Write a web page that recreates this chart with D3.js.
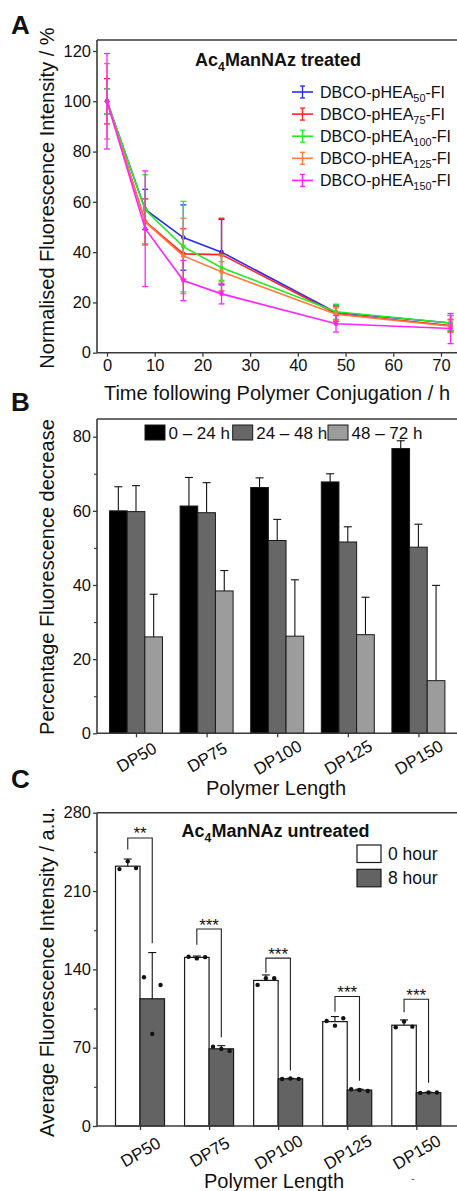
<!DOCTYPE html>
<html><head><meta charset="utf-8">
<script src="https://cdn.jsdelivr.net/npm/d3@7"></script>
<style>
body{margin:0;background:#fff}
svg{display:block}
text{font-family:"Liberation Sans",Arial,Helvetica,sans-serif;fill:#111}
</style>
</head><body><svg id="c" width="457" height="1191"></svg>
<script>
// ---------- Panel A data ----------
const timesA = [0, 8, 16, 24, 48, 72];
const seriesSubA = ["50", "75", "100", "125", "150"];
const colorsA = ["#2a2aff", "#ff2424", "#22ee22", "#ff7a3a", "#ff22ff"];
const dp50A = [100, 57, 45.8, 40, 16, 11.8];
const dp75A = [100, 52.2, 39.3, 39, 15.5, 10.8];
const dp100A = [100, 56.8, 42.2, 33.8, 16.3, 11.8];
const dp125A = [100, 52, 38.5, 32.2, 15.3, 10.5];
const dp150A = [100, 49.3, 28.7, 23.4, 11.5, 9.6];
const dp50ErrA = [5, 8, 13, 13, 3, 3];
const dp75ErrA = [9, 9, 10, 14.5, 3, 2.5];
const dp100ErrA = [5, 14, 18, 5, 3, 3];
const dp125ErrA = [15, 9, 15, 4, 2.5, 2.5];
const dp150ErrA = [19, 23, 8, 4, 3.3, 6];
const yTicksA = [0, 20, 40, 60, 80, 100, 120];
const xTicksA = [0, 10, 20, 30, 40, 50, 60, 70];

// ---------- Panel B data ----------
const categories = ["DP50", "DP75", "DP100", "DP125", "DP150"];
const seriesB = ["0 \u2013 24 h", "24 \u2013 48 h", "48 \u2013 72 h"];
const colorsB = ["#000000", "#676767", "#9c9c9c"];
const b0to24 = [60, 61.3, 66.3, 67.8, 76.8];
const b24to48 = [59.8, 59.5, 52, 51.6, 50.2];
const b48to72 = [26, 38.4, 26.2, 26.6, 14.2];
const b0to24Err = [6.5, 7.7, 2.6, 2.2, 2.1];
const b24to48Err = [7.0, 8.1, 5.7, 4.1, 6.2];
const b48to72Err = [11.5, 5.5, 15.2, 10.1, 25.7];
const yTicksB = [0, 20, 40, 60, 80];
const yMinorB = [10, 30, 50, 70];

// ---------- Panel C data ----------
const seriesC = ["0 hour", "8 hour"];
const colorsC = ["#ffffff", "#636363"];
const c0h = [232.2, 150.7, 130.1, 93.3, 90.1];
const c8h = [113.7, 69, 42.2, 32.1, 29.8];
const c0hErr = [6.4, 1.2, 4.9, 4.5, 4.7];
const c8hErr = [41.3, 2.8, 0.4, 0.8, 0.4];
const c0hDots = [[229.6, 236.5, 230.5], [151.3, 149.8, 150.9], [126.1, 132.1, 132.1], [93.9, 89.7, 96.3], [88.3, 93.3, 88.8]];
const c8hDots = [[133, 82.3, 126], [70.9, 68.9, 67.1], [42.0, 42.4, 42.1], [32.8, 32.2, 31.3], [29.6, 29.9, 30.0]];
const sigLabels = ["**", "***", "***", "***", "***"];
const sigTop = [257.4, 176, 150, 115.7, 113.3];
const sigLeftEnd = [247, 162, 137, 102, 101.7];
const sigRightEnd = [163.4, 79.3, 49.5, 40.5, 38.7];
const yTicksC = [0, 70, 140, 210, 280];
const yMinorC = [35, 105, 175, 245];

const svg = d3.select("#c");
const AX = "#3a3a3a";
const LEFT = 97, RIGHT = 462;
const TICKFONT = 16.5, TITLEFONT = 20;

function yAxis(g, y, ticks, minor) {
  const ax = g.append("g").attr("transform", `translate(${LEFT},0)`)
    .call(d3.axisLeft(y).tickValues(ticks).tickSize(4).tickPadding(2).tickSizeOuter(0));
  ax.select(".domain").remove();
  ax.selectAll("line").attr("stroke", AX).attr("stroke-width", 1.3);
  ax.selectAll("text").attr("font-size", TICKFONT).attr("fill", "#111");
  if (minor) {
    const m = g.append("g").attr("transform", `translate(${LEFT},0)`)
      .call(d3.axisLeft(y).tickValues(minor).tickSize(3).tickFormat(""));
    m.select(".domain").remove();
    m.selectAll("line").attr("stroke", AX).attr("stroke-width", 1.1);
  }
}
function frame(g, top, bottom) {
  g.append("line").attr("x1", LEFT).attr("x2", LEFT).attr("y1", top).attr("y2", bottom).attr("stroke", AX).attr("stroke-width", 1.6);
  g.append("line").attr("x1", LEFT).attr("x2", RIGHT).attr("y1", top).attr("y2", top).attr("stroke", AX).attr("stroke-width", 1.6);
  g.append("line").attr("x1", LEFT).attr("x2", RIGHT).attr("y1", bottom).attr("y2", bottom).attr("stroke", AX).attr("stroke-width", 1.6);
}
function subText(g, x, y, parts, size, anchor, weight) {
  const t = g.append("text").attr("x", x).attr("y", y).attr("font-size", size)
    .attr("text-anchor", anchor || "start").attr("font-weight", weight || "normal");
  parts.forEach(p => {
    if (p.sub) t.append("tspan").attr("font-size", size * 0.68).attr("dy", size * 0.25).text(p.t);
    else t.append("tspan").attr("font-size", size).attr("dy", p.back ? -size * 0.25 : 0).text(p.t);
  });
  return t;
}

// ================= Panel A =================
const gA = svg.append("g");
const xA = d3.scaleLinear().domain([0, 70]).range([107, 441]);
const yA = d3.scaleLinear().domain([0, 120]).range([352.7, 51]);
frame(gA, 40, 352.7);
yAxis(gA, yA, yTicksA);
{
  const ax = gA.append("g").attr("transform", "translate(0,352.7)")
    .call(d3.axisBottom(xA).tickValues(xTicksA).tickSize(4).tickPadding(3).tickSizeOuter(0));
  ax.select(".domain").remove();
  ax.selectAll("line").attr("stroke", AX).attr("stroke-width", 1.3);
  ax.selectAll("text").attr("font-size", TICKFONT).attr("fill", "#111");
}
const valsA = [dp50A, dp75A, dp100A, dp125A, dp150A];
const errsA = [dp50ErrA, dp75ErrA, dp100ErrA, dp125ErrA, dp150ErrA];
const lineA = d3.line().x((d, i) => xA(timesA[i])).y(d => yA(d));
valsA.forEach((vals, s) => {
  const col = colorsA[s];
  const g = gA.append("g");
  g.append("path").datum(vals).attr("d", lineA).attr("fill", "none").attr("stroke", col).attr("stroke-width", 1.6);
  vals.forEach((v, i) => {
    const x = xA(timesA[i]), e = errsA[s][i];
    g.append("line").attr("x1", x).attr("x2", x).attr("y1", yA(v + e)).attr("y2", yA(v - e)).attr("stroke", col).attr("stroke-width", 1.3);
    [v + e, v - e].forEach(w => g.append("line").attr("x1", x - 3).attr("x2", x + 3).attr("y1", yA(w)).attr("y2", yA(w)).attr("stroke", col).attr("stroke-width", 1.3));
    g.append("circle").attr("cx", x).attr("cy", yA(v)).attr("r", 2.3).attr("fill", col);
  });
});
subText(gA, 278, 66, [{t: "Ac"}, {t: "4", sub: true}, {t: "ManNAz treated", back: true}], 18, "middle", "bold");
seriesSubA.forEach((sub, i) => {
  const y = 92 + i * 22.1, col = colorsA[i];
  gA.append("line").attr("x1", 292).attr("x2", 313).attr("y1", y).attr("y2", y).attr("stroke", col).attr("stroke-width", 1.6);
  gA.append("line").attr("x1", 302.5).attr("x2", 302.5).attr("y1", y - 6).attr("y2", y + 6).attr("stroke", col).attr("stroke-width", 1.3);
  [y - 6, y + 6].forEach(w => gA.append("line").attr("x1", 300).attr("x2", 305).attr("y1", w).attr("y2", w).attr("stroke", col).attr("stroke-width", 1.3));
  subText(gA, 320, y + 5.5, [{t: "DBCO-pHEA"}, {t: sub, sub: true}, {t: "-FI", back: true}], 16, "start");
});
gA.append("text").attr("transform", "translate(54,198) rotate(-90)").attr("text-anchor", "middle").attr("font-size", TITLEFONT).text("Normalised Fluorescence Intensity / %");
gA.append("text").attr("x", 277).attr("y", 400).attr("text-anchor", "middle").attr("font-size", TITLEFONT).text("Time following Polymer Conjugation / h");
gA.append("text").attr("x", 11).attr("y", 34).attr("font-size", 26).attr("font-weight", "bold").text("A");

// ================= Panel B =================
const gB = svg.append("g");
const yB = d3.scaleLinear().domain([0, 80]).range([733.3, 436.7]);
const xB = d3.scalePoint().domain(categories).range([136, 418.4]);
const xBin = d3.scaleBand().domain(seriesB).range([-26.5, 26.5]);
const valsB = [b0to24, b24to48, b48to72];
const errsB = [b0to24Err, b24to48Err, b48to72Err];
valsB.forEach((vals, s) => {
  vals.forEach((v, i) => {
    const x0 = xB(categories[i]) + xBin(seriesB[s]);
    const w = xBin.bandwidth();
    const xc = x0 + w / 2, top = v + errsB[s][i];
    gB.append("line").attr("x1", xc).attr("x2", xc).attr("y1", yB(v)).attr("y2", yB(top)).attr("stroke", "#111").attr("stroke-width", 1.1);
    gB.append("line").attr("x1", xc - 4).attr("x2", xc + 4).attr("y1", yB(top)).attr("y2", yB(top)).attr("stroke", "#111").attr("stroke-width", 1.1);
    gB.append("rect").attr("x", x0).attr("y", yB(v)).attr("width", w).attr("height", yB(0) - yB(v))
      .attr("fill", colorsB[s]).attr("stroke", "#1a1a1a").attr("stroke-width", 1);
  });
});
frame(gB, 419, 733.3);
yAxis(gB, yB, yTicksB, yMinorB);
{
  const ax = gB.append("g").attr("transform", "translate(0,733.3)")
    .call(d3.axisBottom(xB).tickSize(4).tickSizeOuter(0));
  ax.select(".domain").remove();
  ax.selectAll("line").attr("stroke", AX).attr("stroke-width", 1.3);
  ax.selectAll("text").attr("font-size", 17).attr("fill", "#111").attr("text-anchor", "middle")
    .attr("y", 0).attr("dy", "0.35em").attr("transform", "translate(0,24) rotate(-30)");
}
const legXB = [145, 232.7, 328];
seriesB.forEach((name, i) => {
  gB.append("rect").attr("x", legXB[i]).attr("y", 425).attr("width", 20).attr("height", 15)
    .attr("fill", colorsB[i]).attr("stroke", "#1a1a1a").attr("stroke-width", 1);
  gB.append("text").attr("x", legXB[i] + 23.5).attr("y", 438.5).attr("font-size", 17).text(name);
});
gB.append("text").attr("transform", "translate(54,577) rotate(-90)").attr("text-anchor", "middle").attr("font-size", TITLEFONT).text("Percentage Fluorescence decrease");
gB.append("text").attr("x", 276).attr("y", 795).attr("text-anchor", "middle").attr("font-size", TITLEFONT).text("Polymer Length");
gB.append("text").attr("x", 11).attr("y", 411).attr("font-size", 26).attr("font-weight", "bold").text("B");

// ================= Panel C =================
const gC = svg.append("g");
const yC = d3.scaleLinear().domain([0, 280]).range([1126, 812.7]);
const xC = d3.scalePoint().domain(categories).range([140, 416.3]);
const bwC = 24.5;
const valsC = [c0h, c8h];
const errsC = [c0hErr, c8hErr];
const dotsC = [c0hDots, c8hDots];
valsC.forEach((vals, s) => {
  vals.forEach((v, i) => {
    const x0 = xC(categories[i]) + (s === 0 ? -bwC : 0);
    const xc = x0 + bwC / 2, top = v + errsC[s][i];
    gC.append("rect").attr("x", x0).attr("y", yC(v)).attr("width", bwC).attr("height", yC(0) - yC(v))
      .attr("fill", colorsC[s]).attr("stroke", "#1a1a1a").attr("stroke-width", 1.2);
    gC.append("line").attr("x1", xc).attr("x2", xc).attr("y1", yC(v)).attr("y2", yC(top)).attr("stroke", "#111").attr("stroke-width", 1.1);
    gC.append("line").attr("x1", xc - 4).attr("x2", xc + 4).attr("y1", yC(top)).attr("y2", yC(top)).attr("stroke", "#111").attr("stroke-width", 1.1);
    dotsC[s][i].forEach((d, k) => {
      gC.append("circle").attr("cx", xc + (k - 1) * 8.3).attr("cy", yC(d)).attr("r", 2.2).attr("fill", "#111");
    });
  });
});
categories.forEach((c, i) => {
  const xl = xC(c) - bwC / 2, xr = xC(c) + bwC / 2;
  gC.append("path").attr("d", `M${xl},${yC(sigLeftEnd[i])}V${yC(sigTop[i])}H${xr}V${yC(sigRightEnd[i])}`)
    .attr("fill", "none").attr("stroke", "#222").attr("stroke-width", 1.1);
  gC.append("text").attr("x", (xl + xr) / 2).attr("y", yC(sigTop[i]) + 1.5).attr("text-anchor", "middle").attr("font-size", 17).text(sigLabels[i]);
});
frame(gC, 812.7, 1126);
yAxis(gC, yC, yTicksC, yMinorC);
{
  const ax = gC.append("g").attr("transform", "translate(0,1126)")
    .call(d3.axisBottom(xC).tickSize(4).tickSizeOuter(0));
  ax.select(".domain").remove();
  ax.selectAll("line").attr("stroke", AX).attr("stroke-width", 1.3);
  ax.selectAll("text").attr("font-size", 17).attr("fill", "#111").attr("text-anchor", "middle")
    .attr("y", 0).attr("dy", "0.35em").attr("transform", "translate(0,26) rotate(-30)");
}
subText(gC, 275.5, 837, [{t: "Ac"}, {t: "4", sub: true}, {t: "ManNAz untreated", back: true}], 18, "middle", "bold");
seriesC.forEach((name, i) => {
  const y = 845 + i * 24.3;
  gC.append("rect").attr("x", 357).attr("y", y).attr("width", 24).attr("height", 17.5)
    .attr("fill", colorsC[i]).attr("stroke", "#1a1a1a").attr("stroke-width", 1.2);
  gC.append("text").attr("x", 388).attr("y", y + 14.5).attr("font-size", 17.5).text(name);
});
gC.append("text").attr("transform", "translate(54,972) rotate(-90)").attr("text-anchor", "middle").attr("font-size", TITLEFONT).text("Average Fluorescence Intensity / a.u.");
gC.append("text").attr("x", 274).attr("y", 1188).attr("text-anchor", "middle").attr("font-size", TITLEFONT).text("Polymer Length");
gC.append("text").attr("x", 11).attr("y", 788).attr("font-size", 26).attr("font-weight", "bold").text("C");
gC.append("text").attr("x", 413).attr("y", 1182).attr("text-anchor", "middle").attr("font-size", 9).attr("fill", "#555").text("-");
</script>
</body></html>
